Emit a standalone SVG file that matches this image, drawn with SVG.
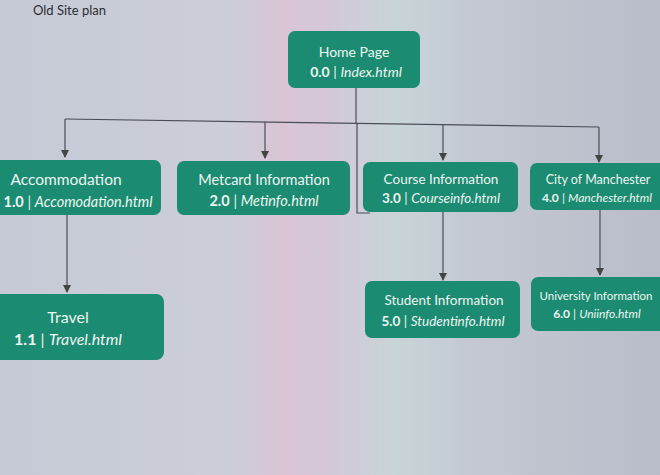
<svg xmlns="http://www.w3.org/2000/svg" width="660" height="475" viewBox="0 0 660 475">
<defs>
<linearGradient id="bg" x1="0" y1="0" x2="1" y2="0">
<stop offset="0" stop-color="#c5cad6"/>
<stop offset="0.35" stop-color="#ccced8"/>
<stop offset="0.43" stop-color="#dac5d5"/>
<stop offset="0.5" stop-color="#d4c8d8"/>
<stop offset="0.6" stop-color="#c8d5d8"/>
<stop offset="0.72" stop-color="#c3c8d3"/>
<stop offset="1" stop-color="#b8bdc9"/>
</linearGradient>
<marker id="arr" viewBox="0 0 8 8" refX="7" refY="4" markerWidth="7" markerHeight="7" orient="auto">
<path d="M0,0 L8,4 L0,8 z" fill="#444"/>
</marker>
<style>
.box{fill:#1b8b71;}
.t{font-family:"Lato","Open Sans","Liberation Sans",sans-serif;fill:#eef5f2;text-anchor:middle;}
.b{font-weight:bold;}
.i{font-style:italic;}
.ln{fill:none;stroke:#4a4d57;stroke-width:1.2;}
</style>
</defs>
<rect x="0" y="0" width="660" height="475" fill="url(#bg)"/>
<text x="33" y="15" font-family="Lato,'Liberation Sans',sans-serif" font-size="13" fill="#2a2c33">Old Site plan</text>

<g id="connectors">
<path class="ln" d="M356,88 L356,123"/>
<path class="ln" d="M65,119 L599,127"/>
<path class="ln" d="M65,119 L65,157" marker-end="url(#arr)"/>
<path class="ln" d="M265,122 L265,158" marker-end="url(#arr)"/>
<path class="ln" d="M443,124 L443,160" marker-end="url(#arr)"/>
<path class="ln" d="M599,127 L599,162" marker-end="url(#arr)"/>
<path class="ln" d="M357,123 L357,213 L370,213"/>
<path class="ln" d="M67,215 L67,292" marker-end="url(#arr)"/>
<path class="ln" d="M443,212 L443,280" marker-end="url(#arr)"/>
<path class="ln" d="M600,210 L600,275" marker-end="url(#arr)"/>
</g>

<g id="home">
<rect class="box" x="288" y="31" width="132" height="57" rx="7"/>
<text class="t" x="354" y="57" font-size="14">Home Page</text>
<text class="t" x="356" y="77" font-size="14"><tspan class="b">0.0</tspan> | <tspan class="i">Index.html</tspan></text>
</g>

<g id="accommodation">
<rect class="box" x="-12" y="160" width="173" height="55" rx="7"/>
<text class="t" x="66" y="185" font-size="15.5">Accommodation</text>
<text class="t" x="78" y="207" font-size="14.5"><tspan class="b">1.0</tspan> | <tspan class="i">Accomodation.html</tspan></text>
</g>

<g id="metcard">
<rect class="box" x="177" y="161" width="173" height="54" rx="7"/>
<text class="t" x="264" y="185" font-size="14.5">Metcard Information</text>
<text class="t" x="264" y="206" font-size="14.5"><tspan class="b">2.0</tspan> | <tspan class="i">Metinfo.html</tspan></text>
</g>

<g id="course">
<rect class="box" x="363" y="162" width="155" height="50" rx="7"/>
<text class="t" x="441" y="184" font-size="13.5">Course Information</text>
<text class="t" x="441" y="203" font-size="13.5"><tspan class="b">3.0</tspan> | <tspan class="i">Courseinfo.html</tspan></text>
</g>

<g id="city">
<rect class="box" x="530" y="163" width="140" height="47" rx="7"/>
<text class="t" x="598" y="184" font-size="12.5">City of Manchester</text>
<text class="t" x="597" y="202" font-size="12"><tspan class="b">4.0</tspan> | <tspan class="i">Manchester.html</tspan></text>
</g>

<g id="travel">
<rect class="box" x="-8" y="294" width="172" height="66" rx="8"/>
<text class="t" x="68" y="323" font-size="16">Travel</text>
<text class="t" x="68" y="345" font-size="16"><tspan class="b">1.1</tspan> | <tspan class="i">Travel.html</tspan></text>
</g>

<g id="student">
<rect class="box" x="365" y="281" width="155" height="57" rx="7"/>
<text class="t" x="444" y="305" font-size="13.5">Student Information</text>
<text class="t" x="443" y="326" font-size="13.5"><tspan class="b">5.0</tspan> | <tspan class="i">Studentinfo.html</tspan></text>
</g>

<g id="university">
<rect class="box" x="531" y="277" width="140" height="54" rx="7"/>
<text class="t" x="596" y="300" font-size="11.5">University Information</text>
<text class="t" x="597" y="318" font-size="12"><tspan class="b">6.0</tspan> | <tspan class="i">Uniinfo.html</tspan></text>
</g>
</svg>
